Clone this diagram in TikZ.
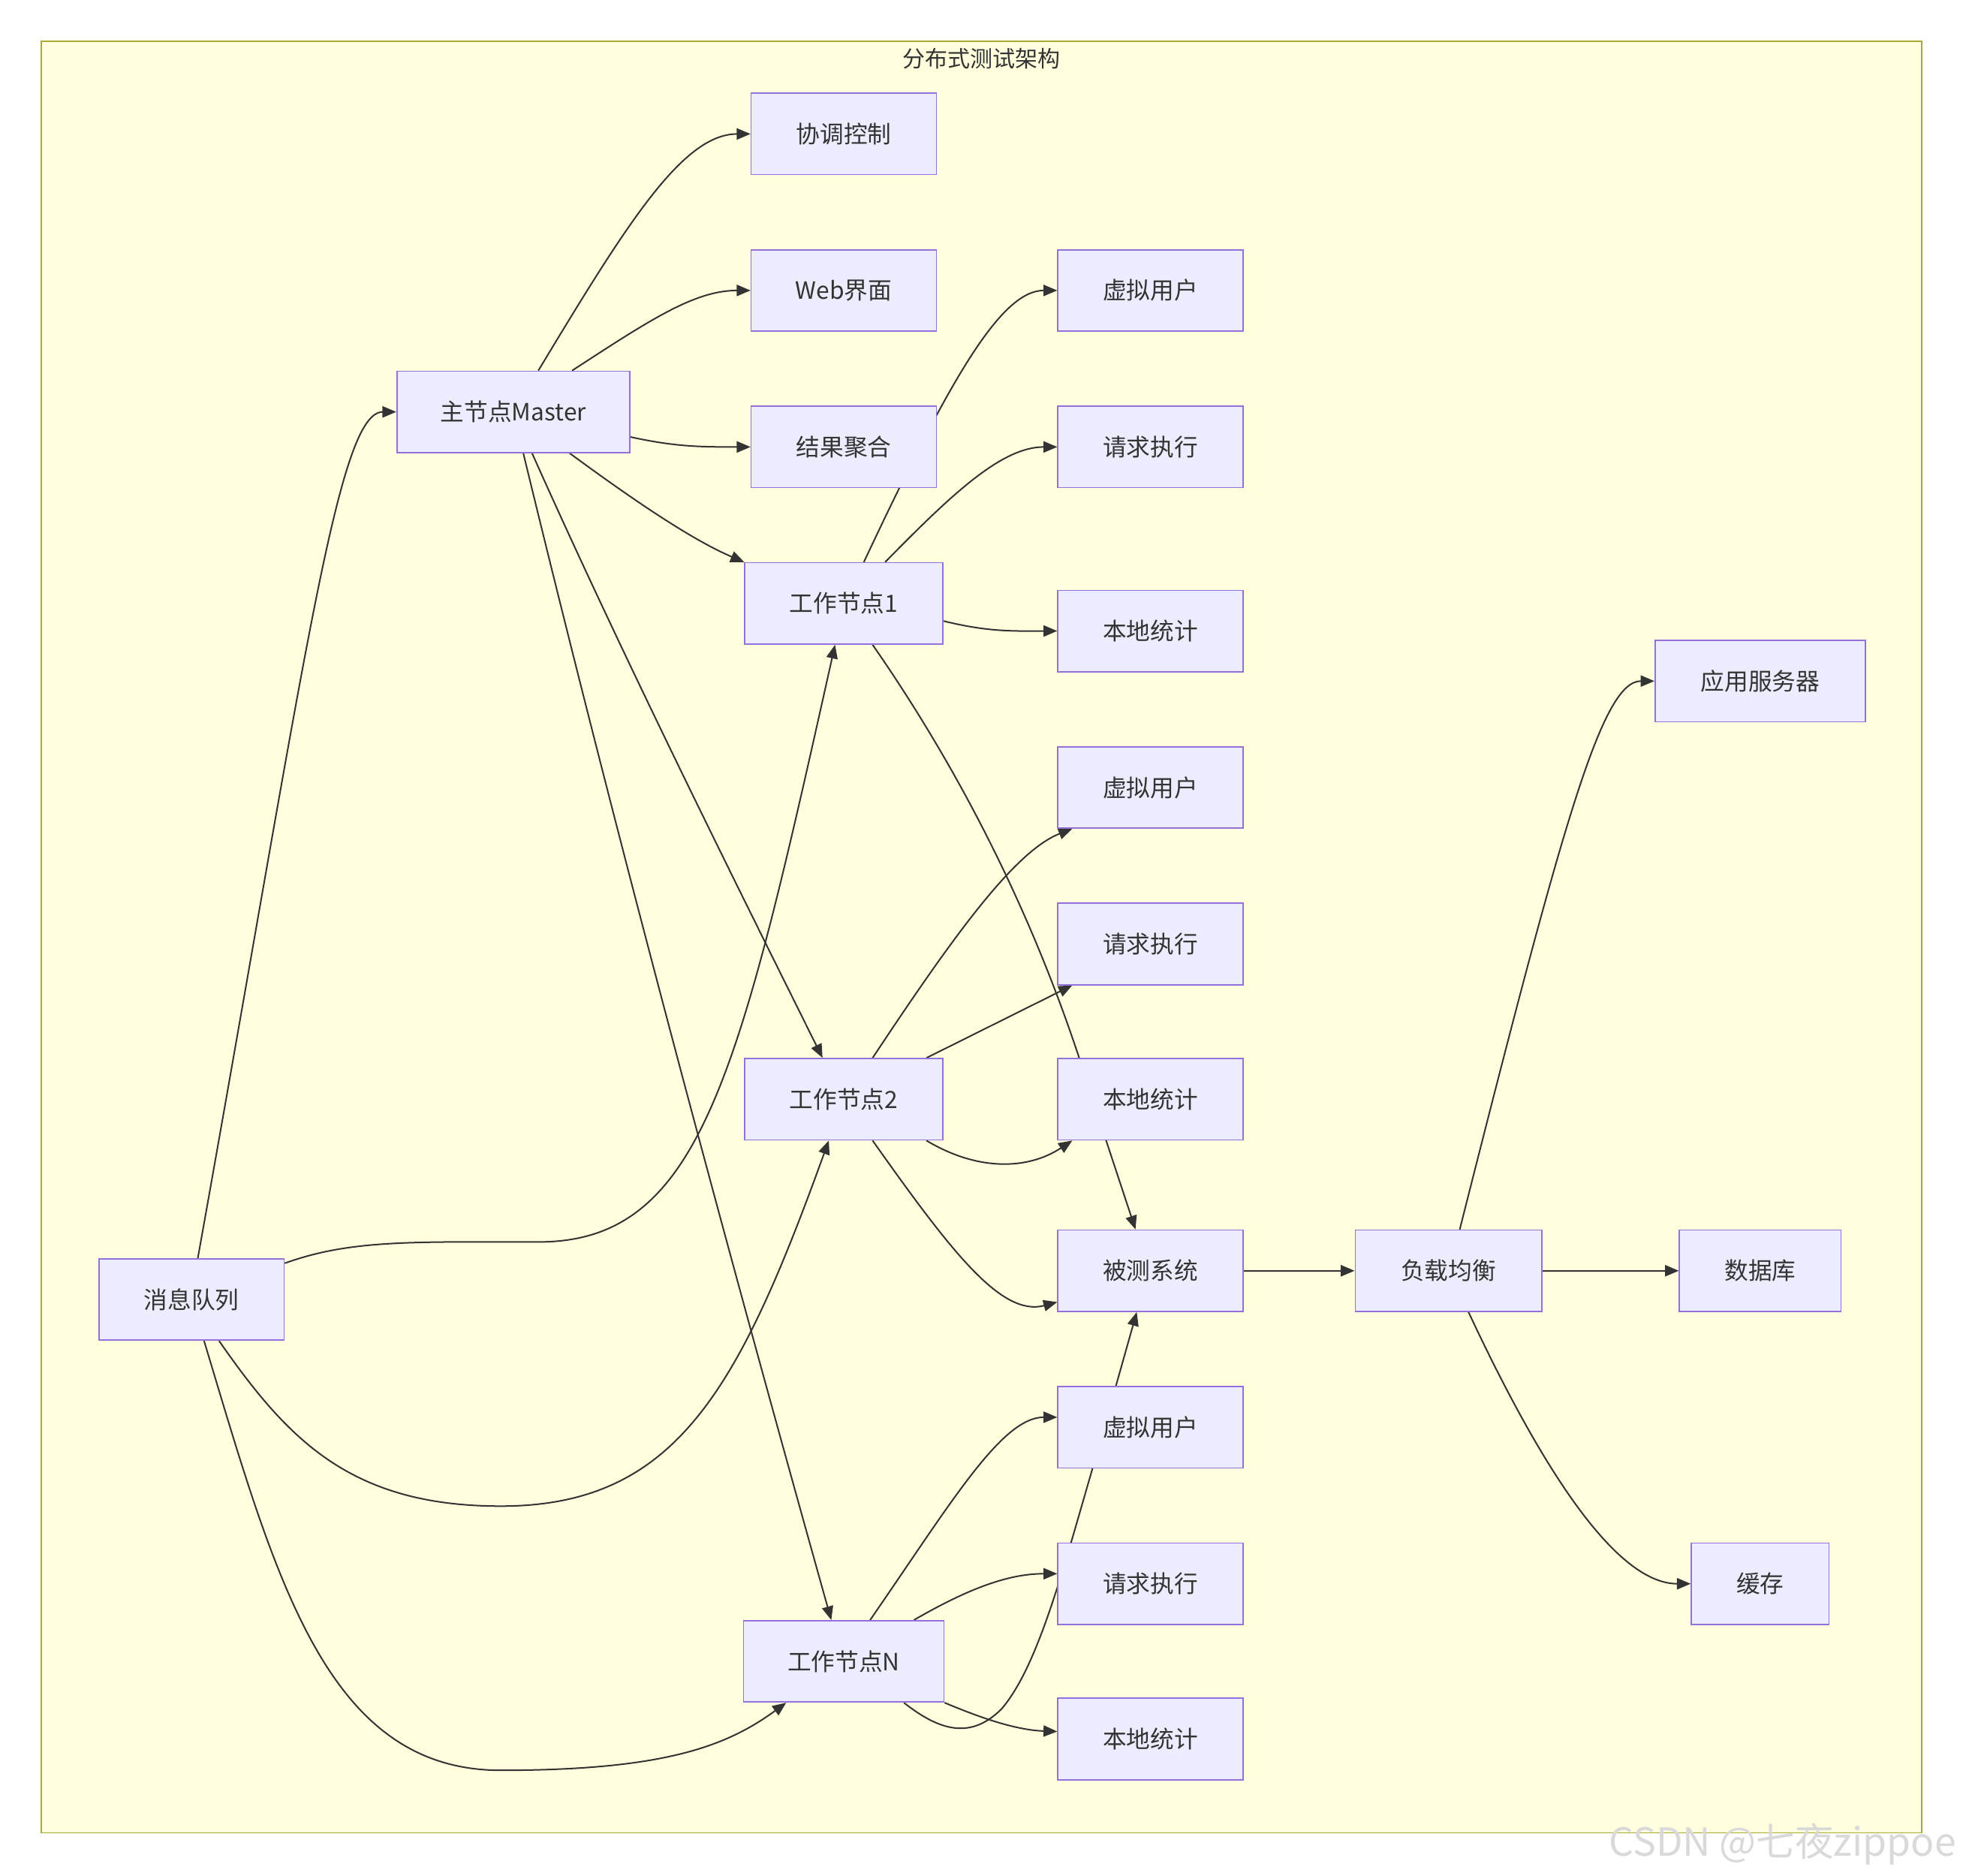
\documentclass[tikz,border=0pt]{standalone}
\usepackage{fontspec}
\setmainfont{Noto Sans CJK SC}
\usetikzlibrary{arrows.meta}
\definecolor{nodefill}{HTML}{ECECFF}
\definecolor{nodeline}{HTML}{9370DB}
\definecolor{clusterfill}{HTML}{FFFFDE}
\definecolor{clusterline}{HTML}{AAAA33}
\definecolor{ink}{HTML}{333333}
\definecolor{wm}{HTML}{D9D9D9}
\pgfdeclarelayer{bg}
\pgfdeclarelayer{edges}
\pgfsetlayers{bg,edges,main}
\tikzset{
  box/.style={draw=nodeline, fill=nodefill, line width=1pt, minimum height=65pt,
    minimum width=148pt, inner sep=0pt, text=ink, font=\fontsize{19}{22}\selectfont},
  edge/.style={draw=ink, line width=1.2pt, -{Triangle[length=11pt,width=9pt]}}
}
\begin{document}
\begin{tikzpicture}[x=1pt,y=-1pt]
\useasboundingbox (0,0) rectangle (1568,1498);
\begin{pgfonlayer}{bg}
\fill[white] (0,0) rectangle (1568,1498);
\draw[fill=clusterfill, draw=clusterline, line width=1pt] (33,33) rectangle (1535,1464);
\end{pgfonlayer}
\node[text=ink, font=\fontsize{18}{21}\selectfont] (title) at (784,47) {分布式测试架构};
\node[text=wm, font=\fontsize{31}{34}\selectfont, anchor=east] (wmark) at (1566,1473) {CSDN @七夜zippoe};

\node[box] (ctrl) at (674,107) {协调控制};
\node[box] (web) at (674,232) {Web界面};
\node[box] (vu1) at (919,232) {虚拟用户};
\node[box, minimum width=186pt] (master) at (410,329) {主节点Master};
\node[box] (agg) at (674,357) {结果聚合};
\node[box] (rq1) at (919,357) {请求执行};
\node[box, minimum width=158pt] (w1) at (674,482) {工作节点1};
\node[box] (ls1) at (919,504) {本地统计};
\node[box, minimum width=168pt] (app) at (1406,544) {应用服务器};
\node[box] (vu2) at (919,629) {虚拟用户};
\node[box] (rq2) at (919,754) {请求执行};
\node[box, minimum width=158pt] (w2) at (674,878) {工作节点2};
\node[box] (ls2) at (919,878) {本地统计};
\node[box] (sut) at (919,1015) {被测系统};
\node[box, minimum width=149pt] (lb) at (1157,1015) {负载均衡};
\node[box, minimum width=129pt] (db) at (1406,1015) {数据库};
\node[box] (mq) at (153,1038) {消息队列};
\node[box] (vu3) at (919,1140) {虚拟用户};
\node[box, minimum width=110pt] (cache) at (1406,1265) {缓存};
\node[box] (rq3) at (919,1265) {请求执行};
\node[box, minimum width=160pt] (wN) at (674,1327) {工作节点N};
\node[box] (ls3) at (919,1389) {本地统计};

\begin{pgfonlayer}{edges}
% master
\draw[edge] ([xshift=20pt]master.north) .. controls (500,180) and (545,107) .. (ctrl.west);
\draw[edge] ([xshift=47pt]master.north) .. controls (520,255) and (555,232) .. (web.west);
\draw[edge] ([yshift=-20pt]master.east) .. controls (540,357) and (560,357) .. (agg.west);
\draw[edge] ([xshift=45pt]master.south) .. controls (500,395) and (550,430) .. (w1.north west);
\draw[edge] ([xshift=15pt]master.south) .. controls (500,530) and (590,710) .. ([xshift=-17pt]w2.north);
\draw[edge] ([xshift=8pt]master.south) .. controls (500,700) and (590,1030) .. ([xshift=-10pt]wN.north);
% queue
\draw[edge] ([xshift=5pt]mq.north) .. controls (245,520) and (270,329) .. (master.west);
\draw[edge] ([yshift=-4pt]mq.north east) .. controls (280,990) and (330,992) .. (430,992)
   .. controls (560,992) and (590,860) .. ([xshift=-7pt]w1.south);
\draw[edge] ([xshift=22pt]mq.south) .. controls (230,1150) and (280,1203) .. (400,1203)
   .. controls (540,1203) and (590,1110) .. ([xshift=-12pt]w2.south);
\draw[edge] ([xshift=10pt]mq.south) .. controls (220,1260) and (260,1414) .. (400,1414)
   .. controls (530,1414) and (580,1395) .. ([xshift=-46pt]wN.south);
% worker 1
\draw[edge] ([xshift=16pt]w1.north) .. controls (760,300) and (800,232) .. (vu1.west);
\draw[edge] ([xshift=33pt]w1.north) .. controls (760,395) and (800,357) .. (rq1.west);
\draw[edge] ([yshift=-14pt]w1.east) .. controls (790,505) and (810,504) .. (ls1.west);
\draw[edge] ([xshift=23pt]w1.south) .. controls (770,620) and (830,740) .. (870,870)
   -- ([xshift=-12pt]sut.north);
% worker 2
\draw[edge] ([xshift=23pt]w2.north) .. controls (760,750) and (810,680) .. ([xshift=12pt]vu2.south west);
\draw[edge] ([xshift=66pt]w2.north) -- ([xshift=12pt]rq2.south west);
\draw[edge] ([xshift=66pt]w2.south) .. controls (780,935) and (820,935) .. ([xshift=12pt]ls2.south west);
\draw[edge] ([xshift=23pt]w2.south) .. controls (760,1000) and (800,1052) .. ([yshift=-25pt]sut.west);
% worker N
\draw[edge] ([xshift=21pt]wN.north) .. controls (760,1200) and (800,1132) .. ([yshift=8pt]vu3.west);
\draw[edge] ([xshift=56pt]wN.north) .. controls (780,1265) and (810,1257) .. ([yshift=8pt]rq3.west);
\draw[edge] (wN.south east) .. controls (790,1375) and (815,1382) .. ([yshift=6pt]ls3.west);
\draw[edge] ([xshift=48pt]wN.south) .. controls (750,1382) and (775,1390) .. (800,1365)
   .. controls (830,1330) and (850,1250) .. (875,1165) -- ([xshift=-11pt]sut.south);
% system
\draw[edge] (sut.east) -- (lb.west);
\draw[edge] ([xshift=9pt]lb.north) .. controls (1250,650) and (1280,544) .. (app.west);
\draw[edge] (lb.east) -- (db.west);
\draw[edge] ([xshift=16pt]lb.south) .. controls (1230,1170) and (1290,1265) .. (cache.west);
\end{pgfonlayer}
\end{tikzpicture}
\end{document}
